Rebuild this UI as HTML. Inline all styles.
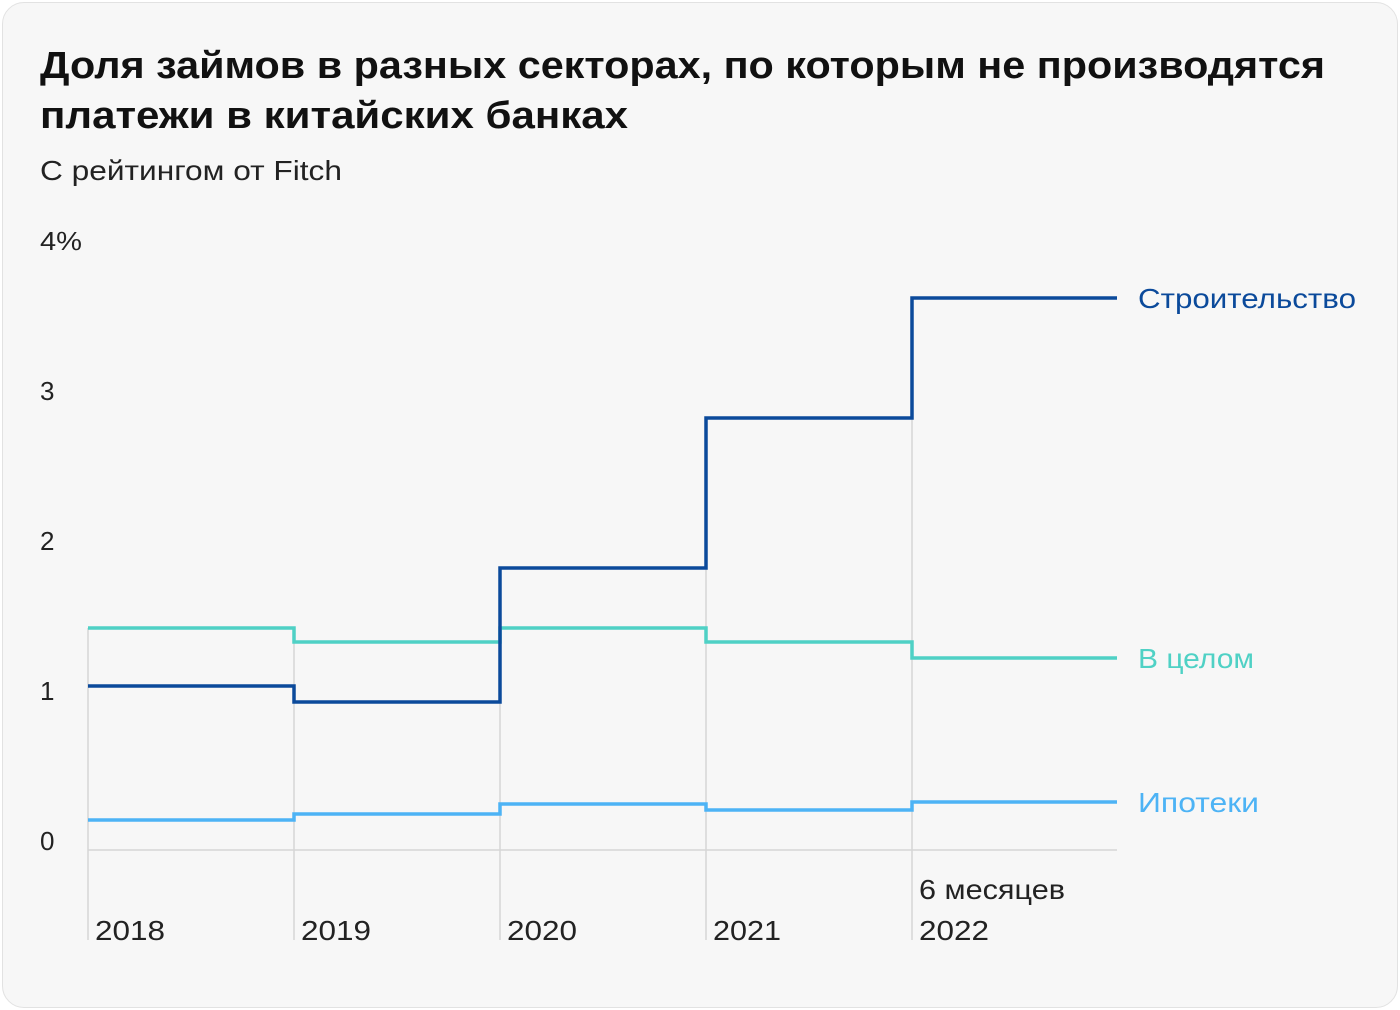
<!DOCTYPE html>
<html><head><meta charset="utf-8"><style>
body{margin:0;width:1400px;height:1010px;background:#fff;font-family:"Liberation Sans","DejaVu Sans",sans-serif;}
.card{position:absolute;left:2px;top:2px;width:1394px;height:1004px;border:1px solid #e2e2e2;border-radius:22px;background:#f7f7f7;}
</style></head><body>
<div class="card"></div>
<svg width="1400" height="1010" style="position:absolute;left:0;top:0" font-family="Liberation Sans, DejaVu Sans, sans-serif">
<text x="40" y="78" font-size="38" font-weight="bold" fill="#111" textLength="1285" lengthAdjust="spacingAndGlyphs">Доля займов в разных секторах, по которым не производятся</text>
<text x="40" y="128" font-size="38" font-weight="bold" fill="#111" textLength="588" lengthAdjust="spacingAndGlyphs">платежи в китайских банках</text>
<text x="40" y="180" font-size="28" fill="#222" textLength="302" lengthAdjust="spacingAndGlyphs">С рейтингом от Fitch</text>
<g font-size="26" fill="#222">
<text x="40" y="250" textLength="42" lengthAdjust="spacingAndGlyphs">4%</text><text x="40" y="400">3</text><text x="40" y="550">2</text><text x="40" y="700">1</text><text x="40" y="850">0</text>
</g>
<line x1="88" y1="850" x2="1117" y2="850" stroke="#d6d6d6" stroke-width="1.5"/>
<g stroke="#d6d6d6" stroke-width="1.5">
<line x1="88" y1="628" x2="88" y2="940"/><line x1="294" y1="628" x2="294" y2="940"/>
<line x1="500" y1="568" x2="500" y2="940"/><line x1="706" y1="418" x2="706" y2="940"/>
<line x1="912" y1="298" x2="912" y2="940"/>
</g>
<g font-size="28" fill="#222">
<text x="95" y="940" textLength="70" lengthAdjust="spacingAndGlyphs">2018</text><text x="301" y="940" textLength="70" lengthAdjust="spacingAndGlyphs">2019</text><text x="507" y="940" textLength="70" lengthAdjust="spacingAndGlyphs">2020</text><text x="713" y="940" textLength="68" lengthAdjust="spacingAndGlyphs">2021</text><text x="919" y="940" textLength="70" lengthAdjust="spacingAndGlyphs">2022</text><text x="919" y="899" textLength="146" lengthAdjust="spacingAndGlyphs">6 месяцев</text>
</g>
<g fill="none" stroke-width="3.5">
<path d="M88 820H294V814H500V804H706V810H912V802H1117" stroke="#4db3f5"/>
<path d="M88 628H294V642H500V628H706V642H912V658H1117" stroke="#4fd1c5"/>
<path d="M88 686H294V702H500V568H706V418H912V298H1117" stroke="#0b4a9b"/>
</g>
<g font-size="28">
<text x="1138" y="308" fill="#0b4a9b" textLength="218" lengthAdjust="spacingAndGlyphs">Строительство</text>
<text x="1138" y="668" fill="#4fd1c5" textLength="116" lengthAdjust="spacingAndGlyphs">В целом</text>
<text x="1138" y="812" fill="#4db3f5" textLength="121" lengthAdjust="spacingAndGlyphs">Ипотеки</text>
</g>
</svg>
</body></html>
